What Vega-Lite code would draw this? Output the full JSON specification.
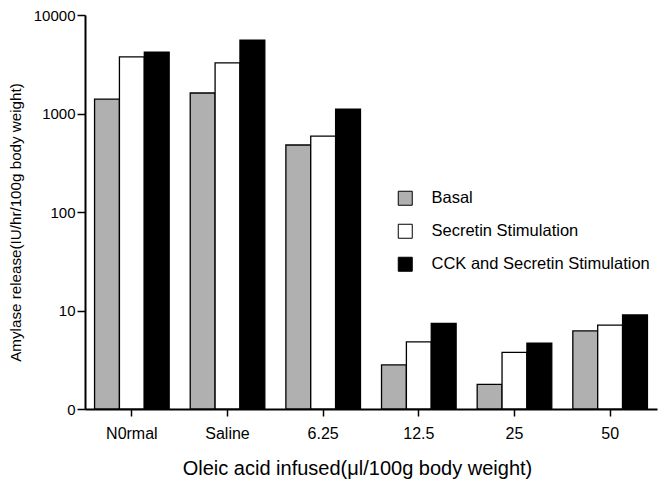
{
  "$schema": "https://vega.github.io/schema/vega-lite/v6.json",
  "width": 572,
  "height": 394,
  "autosize": "none",
  "padding": {"left": 85, "top": 15, "right": 1, "bottom": 83},
  "background": "white",
  "config": {
    "view": {"stroke": null},
    "font": "Liberation Sans"
  },
  "data": {
    "values": [
      {"group": "N0rmal", "type": "Basal", "value": 1400},
      {"group": "N0rmal", "type": "Secretin Stimulation", "value": 3750},
      {"group": "N0rmal", "type": "CCK and Secretin Stimulation", "value": 4200},
      {"group": "Saline", "type": "Basal", "value": 1615},
      {"group": "Saline", "type": "Secretin Stimulation", "value": 3260},
      {"group": "Saline", "type": "CCK and Secretin Stimulation", "value": 5570},
      {"group": "6.25", "type": "Basal", "value": 479},
      {"group": "6.25", "type": "Secretin Stimulation", "value": 590},
      {"group": "6.25", "type": "CCK and Secretin Stimulation", "value": 1110},
      {"group": "12.5", "type": "Basal", "value": 2.8},
      {"group": "12.5", "type": "Secretin Stimulation", "value": 4.8},
      {"group": "12.5", "type": "CCK and Secretin Stimulation", "value": 7.4},
      {"group": "25", "type": "Basal", "value": 1.78},
      {"group": "25", "type": "Secretin Stimulation", "value": 3.76},
      {"group": "25", "type": "CCK and Secretin Stimulation", "value": 4.65},
      {"group": "50", "type": "Basal", "value": 6.2},
      {"group": "50", "type": "Secretin Stimulation", "value": 7.1},
      {"group": "50", "type": "CCK and Secretin Stimulation", "value": 9.0}
    ]
  },
  "mark": {"type": "bar", "stroke": "black", "strokeWidth": 1.3},
  "encoding": {
    "x": {
      "field": "group",
      "type": "nominal",
      "sort": ["N0rmal", "Saline", "6.25", "12.5", "25", "50"],
      "scale": {"paddingInner": 0.22, "paddingOuter": 0.1},
      "axis": {
        "title": "Oleic acid infused(\u03bcl/100g body weight)",
        "titleFont": "Liberation Sans",
        "titleFontSize": 20,
        "titleFontWeight": "normal",
        "titleColor": "black",
        "titleX": 272,
        "titleY": 59,
        "titleBaseline": "middle",
        "labelAngle": 0,
        "labelFont": "Liberation Sans",
        "labelFontSize": 16,
        "labelColor": "black",
        "labelPadding": 9,
        "domainColor": "black",
        "domainWidth": 2,
        "tickColor": "black",
        "tickWidth": 1.5,
        "tickSize": 7,
        "grid": false
      }
    },
    "xOffset": {
      "field": "type",
      "type": "nominal",
      "sort": ["Basal", "Secretin Stimulation", "CCK and Secretin Stimulation"],
      "scale": {"paddingInner": 0, "paddingOuter": 0}
    },
    "y": {
      "field": "value",
      "type": "quantitative",
      "scale": {"type": "log", "domain": [1, 10000], "nice": false},
      "axis": {
        "title": "Amylase release(IU/hr/100g body weight)",
        "titleFont": "Liberation Sans",
        "titleFontSize": 15.2,
        "titleFontWeight": "normal",
        "titleColor": "black",
        "titleX": -70,
        "titleY": 207,
        "titleAngle": -90,
        "titleBaseline": "middle",
        "values": [1, 10, 100, 1000, 10000],
        "labelExpr": "datum.value === 1 ? '0' : format(datum.value, 'd')",
        "labelFont": "Liberation Sans",
        "labelFontSize": 15,
        "labelColor": "black",
        "labelPadding": 2,
        "domainColor": "black",
        "domainWidth": 2,
        "tickColor": "black",
        "tickWidth": 1.5,
        "tickSize": 8,
        "grid": false
      }
    },
    "y2": {"datum": 1},
    "fill": {
      "field": "type",
      "type": "nominal",
      "scale": {
        "domain": ["Basal", "Secretin Stimulation", "CCK and Secretin Stimulation"],
        "range": ["#b0b0b0", "#ffffff", "#000000"]
      },
      "legend": {
        "title": null,
        "orient": "none",
        "legendX": 312,
        "legendY": 175,
        "symbolType": "square",
        "symbolSize": 196,
        "symbolStrokeColor": "black",
        "symbolStrokeWidth": 1,
        "symbolOpacity": 1,
        "labelFont": "Liberation Sans",
        "labelFontSize": 16.5,
        "labelColor": "black",
        "labelOffset": 18,
        "rowPadding": 14,
        "labelLimit": 400
      }
    }
  }
}
